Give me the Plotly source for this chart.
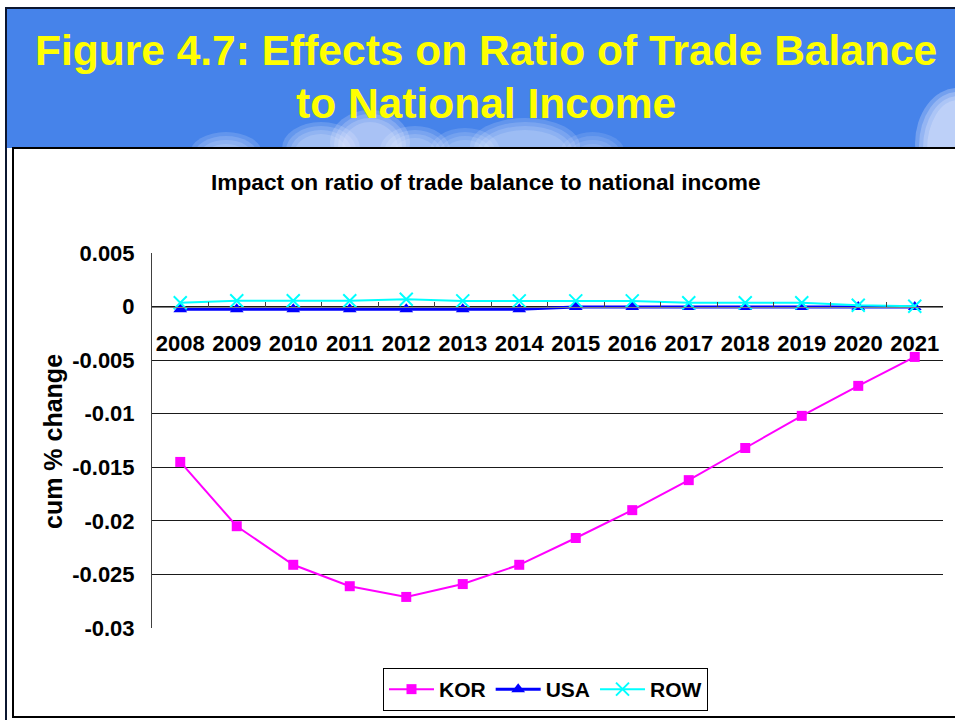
import plotly.graph_objects as go

# ---------------- data ----------------
years = ["2008", "2009", "2010", "2011", "2012", "2013", "2014",
         "2015", "2016", "2017", "2018", "2019", "2020", "2021"]
kor = [-0.0145, -0.0205, -0.0241, -0.0261, -0.0271, -0.0259, -0.0241,
       -0.0216, -0.0190, -0.0162, -0.0132, -0.0102, -0.0074, -0.0047]
usa = [-0.00025, -0.00025, -0.00025, -0.00025, -0.00025, -0.00025, -0.00025,
       -0.00005, -0.00005, -0.00005, -0.00005, -0.00005, -0.00005, -0.00005]
row = [0.00035, 0.00055, 0.00055, 0.00055, 0.00068, 0.00053, 0.00053,
       0.00053, 0.00053, 0.00035, 0.00035, 0.00035, 0.00012, 0.00003]
y_ticks = [0.005, 0, -0.005, -0.01, -0.015, -0.02, -0.025, -0.03]
y_ticklabels = ["0.005", "0", "-0.005", "-0.01", "-0.015", "-0.02", "-0.025", "-0.03"]

W, H = 955, 720
FONT = "Liberation Sans, Arial, Helvetica, sans-serif"


def px(x):
    return x / W


def py(y):
    return 1 - y / H


fig = go.Figure()

fig.add_trace(go.Scatter(
    x=years, y=kor, name="KOR", mode="lines+markers",
    line=dict(color="#FF00FF", width=2),
    marker=dict(symbol="square", size=10, color="#FF00FF"),
))
fig.add_trace(go.Scatter(
    x=years, y=usa, name="USA", mode="lines+markers",
    line=dict(color="#0000FF", width=3),
    marker=dict(symbol="triangle-up", size=12, color="#0000FF"),
))
fig.add_trace(go.Scatter(
    x=years, y=row, name="ROW", mode="lines+markers",
    line=dict(color="#00FFFF", width=2),
    marker=dict(symbol="x-thin", size=13, color="#00FFFF",
                line=dict(color="#00FFFF", width=2)),
))

shapes = []
# sky
shapes.append(dict(type="rect", xref="paper", yref="paper", layer="below",
                   x0=px(6), x1=px(956), y0=py(150), y1=py(8),
                   fillcolor="#4683EA", line=dict(width=0)))
# clouds (x0, y_top, x1, y_bottom, opacity) drawn as soft layered ellipses
clouds = [
    (190, 132, 262, 175, 0.5),
    (282, 122, 360, 175, 0.55),
    (330, 110, 410, 175, 0.6),
    (380, 126, 450, 175, 0.5),
    (430, 128, 500, 175, 0.45),
    (470, 118, 580, 175, 0.5),
    (560, 132, 625, 175, 0.4),
    (915, 88, 1000, 200, 0.8),
]
for x0, y0, x1, y1, op in clouds:
    for k in range(4):
        shrink = k * 4
        shapes.append(dict(type="circle", xref="paper", yref="paper", layer="below",
                           x0=px(x0 + shrink), x1=px(x1 - shrink),
                           y0=py(y1), y1=py(y0 + shrink),
                           fillcolor="rgba(238,242,255,%.2f)" % (op / 3.0),
                           line=dict(width=0)))
# white strip left of chart box below sky
shapes.append(dict(type="rect", xref="paper", yref="paper", layer="below",
                   x0=px(6), x1=px(14), y0=py(722), y1=py(148),
                   fillcolor="white", line=dict(width=0)))
# chart box
shapes.append(dict(type="rect", xref="paper", yref="paper", layer="below",
                   x0=px(13), x1=px(958), y0=py(717), y1=py(148),
                   fillcolor="white", line=dict(color="black", width=2)))
# slide border
shapes.append(dict(type="rect", xref="paper", yref="paper", layer="above",
                   x0=px(6), x1=px(960), y0=py(725), y1=py(8),
                   fillcolor="rgba(0,0,0,0)", line=dict(color="#0b1630", width=2)))

annotations = [
    dict(text="Figure 4.7: Effects on Ratio of Trade Balance",
         x=px(486), y=py(51), xref="paper", yref="paper",
         xanchor="center", yanchor="middle", showarrow=False,
         font=dict(family=FONT, size=42.5, color="#FFFF00", weight="bold")),
    dict(text="to National Income",
         x=px(486), y=py(104), xref="paper", yref="paper",
         xanchor="center", yanchor="middle", showarrow=False,
         font=dict(family=FONT, size=42.5, color="#FFFF00", weight="bold")),
    dict(text="Impact on ratio of trade balance to national income",
         x=px(486), y=py(182), xref="paper", yref="paper",
         xanchor="center", yanchor="middle", showarrow=False,
         font=dict(family=FONT, size=22.7, color="black", weight="bold")),
    dict(text="cum % change", textangle=-90,
         x=px(53), y=py(442), xref="paper", yref="paper",
         xanchor="center", yanchor="middle", showarrow=False,
         font=dict(family=FONT, size=25, color="black", weight="bold")),
]

y_lo, y_hi = -0.03, 0.005
zero_pix = 628 - (0 - y_lo) / (y_hi - y_lo) * (628 - 253)

fig.update_layout(
    width=W, height=H, autosize=False,
    margin=dict(l=0, r=0, t=0, b=0, autoexpand=False),
    paper_bgcolor="white", plot_bgcolor="rgba(0,0,0,0)",
    shapes=shapes, annotations=annotations,
    showlegend=True,
    legend=dict(orientation="h", x=px(545.5), y=py(668), xanchor="center", yanchor="top",
                bordercolor="black", borderwidth=1, bgcolor="white",
                font=dict(family=FONT, size=21, color="black", weight="bold"),
                itemwidth=45, tracegroupgap=0),
    xaxis=dict(domain=[px(152), px(943)], anchor="free", position=py(zero_pix),
               type="category", range=[-0.5, len(years) - 0.5], autorange=False,
               showgrid=False, zeroline=False, automargin=False,
               showline=True, linecolor="#808080", linewidth=1,
               ticks="inside", ticklen=5, tickcolor="#404040", tickson="boundaries",
               tickangle=0, ticklabelstandoff=17,
               tickfont=dict(family=FONT, size=22, color="black", weight="bold")),
    yaxis=dict(domain=[py(628), py(253)], range=[y_lo, y_hi], automargin=False,
               tickvals=y_ticks, ticktext=y_ticklabels,
               showgrid=True, gridcolor="#1a1a1a", gridwidth=1,
               zeroline=False, showline=True, linecolor="#404040", linewidth=1,
               ticks="", ticklabelstandoff=12,
               tickfont=dict(family=FONT, size=22, color="black", weight="bold")),
)

fig.write_html("out.html")
